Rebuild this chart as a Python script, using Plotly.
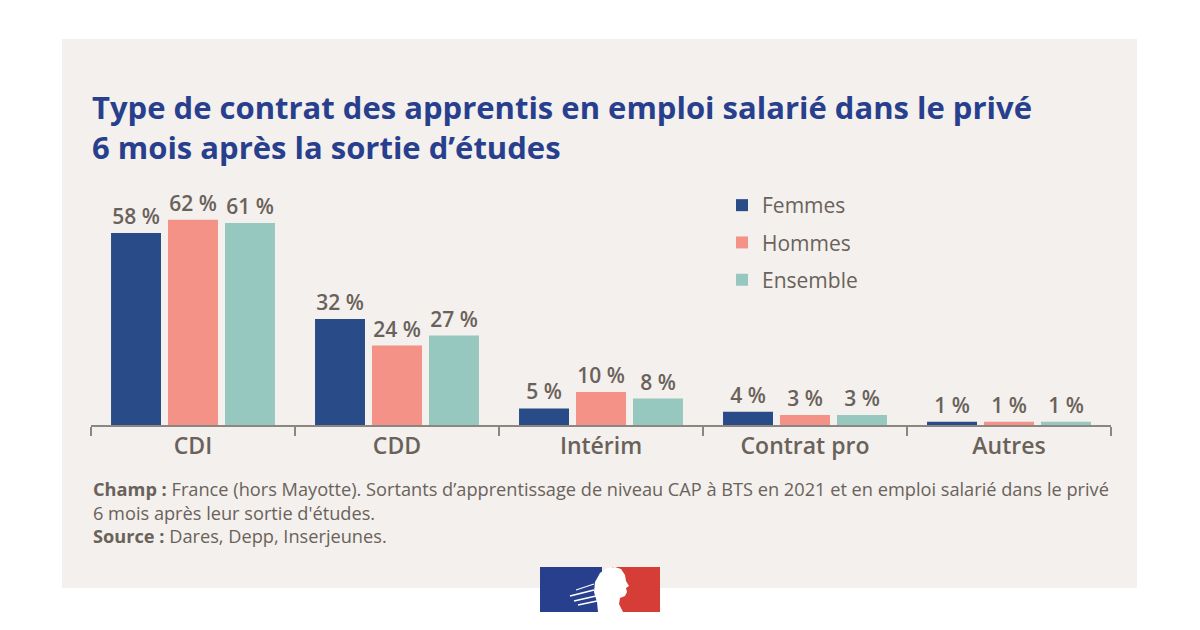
import plotly.graph_objects as go

categories = ["CDI", "CDD", "Intérim", "Contrat pro", "Autres"]
femmes = [58, 32, 5, 4, 1]
hommes = [62, 24, 10, 3, 1]
ensemble = [61, 27, 8, 3, 1]
series_names = ["Femmes", "Hommes", "Ensemble"]
series_colors = ["#294C89", "#F49287", "#97C8C0"]

title_text = ("Type de contrat des apprentis en emploi salarié dans le privé<br>"
              "6 mois après la sortie d’études")
note_text = ("<b>Champ :</b> France (hors Mayotte). Sortants d’apprentissage de niveau CAP à BTS "
             "en 2021 et en emploi salarié dans le privé<br>6 mois après leur sortie d'études.<br>"
             "<b>Source :</b> Dares, Depp, Inserjeunes.")

OFF = 8  # page body margin
W, H = 1200, 630
L, R, T, B = 91 - OFF, 1200 - (1111 - OFF), 160 - OFF, 630 - (425 - OFF)
PW, PH = W - L - R, H - T - B
YMAX = 80.0

def px(x):
    return (x - OFF - L) / PW

def py(y):
    return (H - B - (y - OFF)) / PH

TEXT = "#6A625A"
PANEL = "#F3F0ED"
FONT = "Open Sans"

fig = go.Figure()
for name, vals, col in zip(series_names, [femmes, hommes, ensemble], series_colors):
    fig.add_trace(go.Bar(
        x=categories, y=vals, name=name,
        marker=dict(color=col, line=dict(width=0)),
        text=[f"{v} %" for v in vals], textposition="outside",
        textfont=dict(family=FONT, size=21, color=TEXT, weight=600),
        cliponaxis=False, legendgroup=name,
    ))

shapes = [
    dict(type="rect", xref="paper", yref="paper", x0=px(62), x1=px(1137), y0=py(588), y1=py(39),
         fillcolor=PANEL, line=dict(width=0), layer="below"),
    # logo
    dict(type="rect", xref="paper", yref="paper", x0=px(540), x1=px(602), y0=py(612), y1=py(567),
         fillcolor="#283F8E", line=dict(width=0), layer="above"),
    dict(type="rect", xref="paper", yref="paper", x0=px(612), x1=px(660), y0=py(612), y1=py(567),
         fillcolor="#D63D36", line=dict(width=0), layer="above"),
]
# white profile silhouette (approximate)
prof = [(598, 612), (597, 602), (594, 592), (595, 582), (600, 573), (607, 568), (615, 567),
        (621, 569), (625, 575), (626, 581), (629, 586), (626, 588), (627, 592), (625, 596),
        (620, 598), (619, 604), (623, 612)]
path = "M " + " L ".join(f"{px(x):.5f},{py(y):.5f}" for x, y in prof) + " Z"
shapes.append(dict(type="path", xref="paper", yref="paper", path=path,
                   fillcolor="white", line=dict(width=0), layer="above"))
# hand strokes
for (x0, y0, x1, y1) in [(576, 590, 594, 584), (570, 596, 594, 590), (574, 601, 596, 596), (578, 605, 597, 601)]:
    shapes.append(dict(type="line", xref="paper", yref="paper", x0=px(x0), y0=py(y0), x1=px(x1), y1=py(y1),
                       line=dict(color="white", width=1.3), layer="above"))

annotations = [
    dict(text=title_text, xref="paper", yref="paper", x=px(90), y=py(127), xanchor="left", yanchor="middle",
         align="left", showarrow=False,
         font=dict(family=FONT, size=31, color="#283F8E", weight="bold")),
    dict(text=note_text, xref="paper", yref="paper", x=px(91), y=py(512), xanchor="left", yanchor="middle",
         align="left", showarrow=False,
         font=dict(family=FONT, size=18.2, color=TEXT)),
]

fig.update_layout(
    width=W, height=H,
    margin=dict(l=L, r=R, t=T, b=B, autoexpand=False),
    paper_bgcolor="white", plot_bgcolor="rgba(0,0,0,0)",
    barmode="group", bargap=0.162, bargroupgap=0.123,
    shapes=shapes, annotations=annotations,
    showlegend=True,
    legend=dict(x=px(722), y=py(185), xanchor="left", yanchor="top",
                bgcolor="rgba(0,0,0,0)", traceorder="grouped", tracegroupgap=7,
                font=dict(family=FONT, size=21, color=TEXT), itemwidth=30),
    xaxis=dict(showline=True, linecolor="#8C8680", linewidth=1.5, ticks="outside",
               tickson="boundaries", ticklen=9, tickcolor="#8C8680", tickwidth=1.5,
               tickfont=dict(family=FONT, size=23, color=TEXT, weight=600),
               showgrid=False, zeroline=False, fixedrange=True),
    yaxis=dict(range=[0, YMAX], visible=False, showgrid=False, zeroline=False, fixedrange=True),
    font=dict(family=FONT),
)

fig.write_html("out.html")
